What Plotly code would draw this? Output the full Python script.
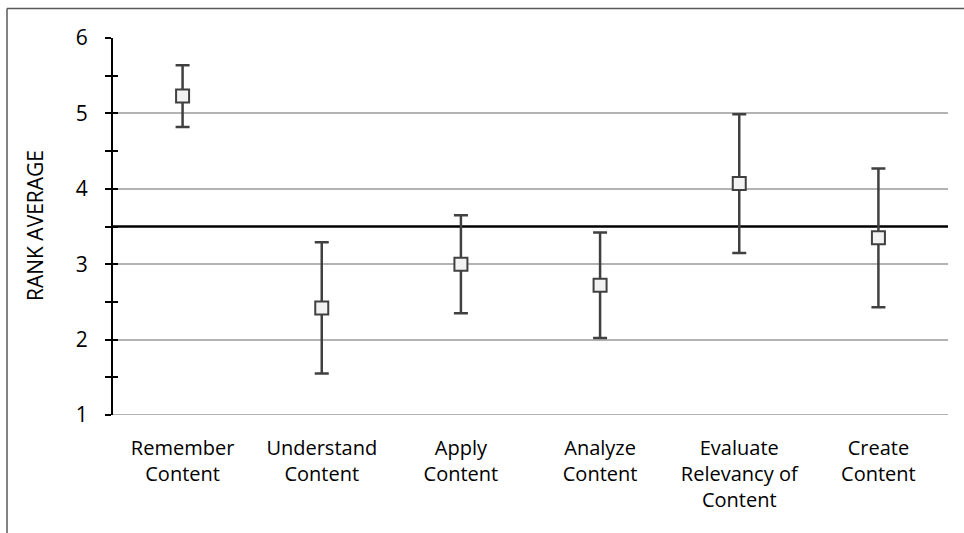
import plotly.graph_objects as go

# Rank averages with their error margins per content category
categories = [
    "Remember<br>Content",
    "Understand<br>Content",
    "Apply<br>Content",
    "Analyze<br>Content",
    "Evaluate<br>Relevancy of<br>Content",
    "Create<br>Content",
]
rank_average = [5.23, 2.42, 3.00, 2.72, 4.07, 3.35]
error_margin = [0.41, 0.87, 0.65, 0.70, 0.92, 0.92]
reference_level = 3.5
y_ticks = [1, 2, 3, 4, 5, 6]

W, H = 964, 533
L, R, T, B = 113, 16, 37.5, 117.5
pw, ph = W - L - R, H - T - B


def px_x(x):
    return (x - L) / pw


def px_y(y):
    return (H - B - y) / ph


fig = go.Figure()

fig.add_trace(go.Scatter(
    x=categories,
    y=rank_average,
    mode="markers",
    marker=dict(symbol="square", size=13, color="#f2f2f2",
                line=dict(color="#404040", width=2)),
    error_y=dict(type="data", array=error_margin, visible=True,
                 color="#404040", thickness=2.5, width=7),
    showlegend=False,
    cliponaxis=False,
))

# Inside half of the crossing ticks on the value axis
fig.add_trace(go.Scatter(x=[None], y=[None], yaxis="y2", showlegend=False))

fig.update_layout(
    width=W, height=H,
    margin=dict(l=L, r=R, t=T, b=B),
    paper_bgcolor="white",
    plot_bgcolor="white",
    font=dict(family="Open Sans", color="#000000"),
    xaxis=dict(
        range=[-0.5, 5.5],
        showgrid=False,
        showline=False,
        zeroline=False,
        ticks="",
        tickfont=dict(size=20, color="#000000"),
        ticklabelstandoff=19,
    ),
    yaxis=dict(
        range=[1, 6],
        tickvals=y_ticks,
        showgrid=True,
        gridcolor="#b3b3b3",
        gridwidth=2,
        zeroline=False,
        showline=True,
        linecolor="#000000",
        linewidth=2,
        ticks="outside",
        ticklen=6,
        tickwidth=2,
        tickcolor="#000000",
        tickfont=dict(size=21, color="#000000"),
        ticklabelstandoff=13,
        minor=dict(dtick=0.5, ticks="outside", ticklen=6, tickwidth=2,
                   tickcolor="#000000", showgrid=False),
    ),
    yaxis2=dict(
        range=[1, 6],
        overlaying="y",
        side="left",
        tickvals=y_ticks,
        showticklabels=False,
        showgrid=False,
        zeroline=False,
        ticks="inside",
        ticklen=5,
        tickwidth=2,
        tickcolor="#000000",
        minor=dict(dtick=0.5, ticks="inside", ticklen=5, tickwidth=2,
                   tickcolor="#000000"),
    ),
    shapes=[
        # lower boundary of the value range
        dict(type="line", xref="paper", yref="y", x0=0, x1=1, y0=1, y1=1,
             line=dict(color="#b3b3b3", width=2), layer="below"),
        # reference level
        dict(type="line", xref="paper", yref="y", x0=0, x1=1,
             y0=reference_level, y1=reference_level,
             line=dict(color="#000000", width=2.5), layer="below"),
        # chart frame: top and left edges
        dict(type="line", xref="paper", yref="paper",
             x0=px_x(7), x1=px_x(W + 5), y0=px_y(8), y1=px_y(8),
             line=dict(color="#595959", width=1.5)),
        dict(type="line", xref="paper", yref="paper",
             x0=px_x(7), x1=px_x(7), y0=px_y(8), y1=px_y(H + 5),
             line=dict(color="#595959", width=1.5)),
    ],
    annotations=[
        dict(text="RANK AVERAGE", textangle=-90, xref="paper", yref="paper",
             x=px_x(35), y=px_y(226), xanchor="center", yanchor="middle",
             showarrow=False, font=dict(size=21, color="#000000")),
    ],
)

fig.write_html("out.html")
